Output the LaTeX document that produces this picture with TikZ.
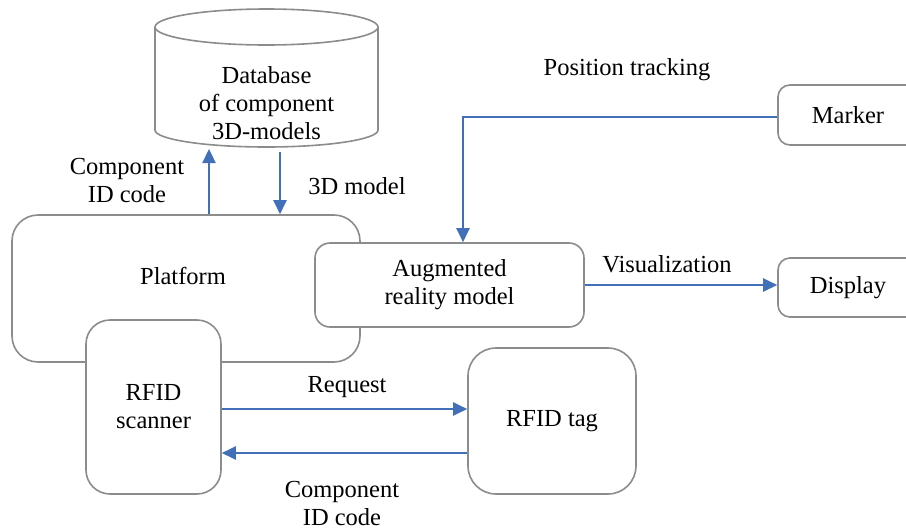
\documentclass[tikz,border=0pt]{standalone}
\usepackage{fontspec}
\setmainfont{Liberation Serif}
\usetikzlibrary{arrows.meta}
\definecolor{boxgray}{HTML}{8C8C8C}
\definecolor{arrblue}{HTML}{4170B8}
\begin{document}
\begin{tikzpicture}[x=1pt,y=-1pt,
  every node/.style={font=\fontsize{24.5}{28}\selectfont, inner sep=0pt, align=center},
  rbox/.style={draw=boxgray, line width=1.6pt, fill=white},
  flow/.style={draw=arrblue, line width=2.3pt, -{Triangle[length=14pt,width=13pt]}},
  lbl/.style={text=black}]
\clip (0,0) rectangle (906,531);
\fill[white] (0,0) rectangle (906,531);
% database cylinder
\draw[rbox] (155,27) -- (155,130) arc[start angle=180, end angle=0, x radius=111.5, y radius=17] -- (378,27);
\draw[rbox] (266.5,27) ellipse [x radius=111.5, y radius=18];
\node (db) at (266.5,103) {Database\\of component\\3D-models};
\coordinate (dbup) at (209,149);
\coordinate (dbdown) at (280,152);
% platform
\node[rbox, rounded corners=26pt, minimum width=348pt, minimum height=147pt] (platform) at (186,288.5) {};
\node (platformlbl) at (183,276) {Platform};
% augmented reality
\node[rbox, rounded corners=15pt, minimum width=269pt, minimum height=84pt] (ar) at (449.5,285) {Augmented\\reality model};
% scanner
\node[rbox, rounded corners=24pt, minimum width=135pt, minimum height=174pt] (scanner) at (153.5,407) {RFID\\scanner};
% tag
\node[rbox, rounded corners=28pt, minimum width=168pt, minimum height=146pt] (tag) at (552,421) {RFID tag};
% marker and display
\node[rbox, rounded corners=12pt, minimum width=140pt, minimum height=60pt] (marker) at (848,115) {Marker};
\node[rbox, rounded corners=12pt, minimum width=140pt, minimum height=59pt] (display) at (848,287.5) {Display};
% arrows
\draw[flow] (platform.north -| dbup) -- (dbup);
\draw[flow] (dbdown) -- (platform.north -| dbdown);
\coordinate (ptx) at (463,117);
\draw[flow] (marker.west |- ptx) -- (ptx) -- (ptx |- ar.north);
\draw[flow] (ar.east) -- (ar.east -| display.west);
\coordinate (req) at (0,409);
\coordinate (ret) at (0,453);
\draw[flow] (scanner.east |- req) -- (tag.west |- req);
\draw[flow] (tag.west |- ret) -- (scanner.east |- ret);
% labels
\node (l1) at (127,181) {Component\\ID code};
\node (l2) at (357,186) {3D model};
\node (l3) at (627,70) {Position tracking};
\node (l4) at (667,264) {Visualization};
\node (l5) at (347,387) {Request};
\node (l6) at (342,504) {Component\\ID code};
\end{tikzpicture}
\end{document}
